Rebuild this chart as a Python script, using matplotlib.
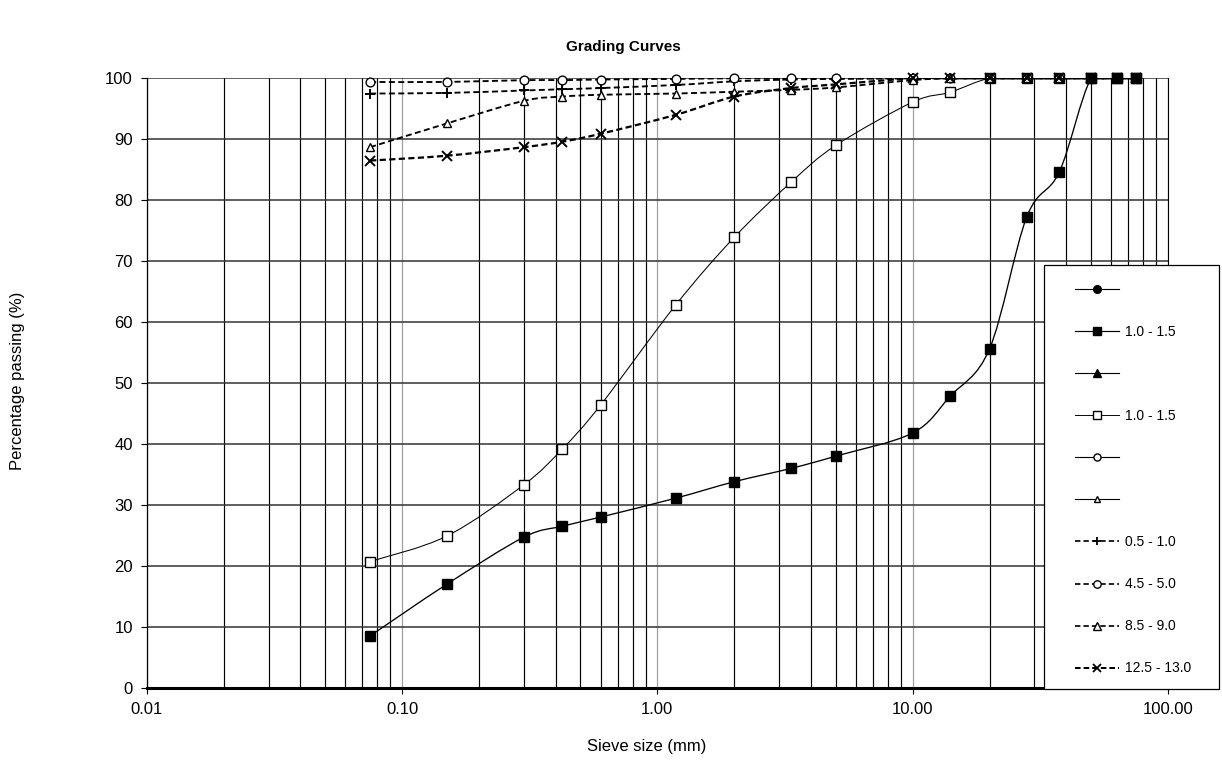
import numpy as np
import matplotlib
matplotlib.use('Agg')
import matplotlib.pyplot as plt
from matplotlib.path import Path
from matplotlib.patches import PathPatch, Rectangle
from matplotlib.lines import Line2D
from matplotlib.ticker import FixedLocator, NullFormatter

plt.rcParams['font.family'] = ['Liberation Sans', 'DejaVu Sans']

# ---------------- data ----------------
sieve = [0.075, 0.15, 0.3, 0.425, 0.6, 1.18, 2, 3.35, 5, 10, 14, 20, 28, 37.5, 50, 63, 75]

filled_sq = [8.5, 17.0, 24.7, 26.5, 28.0, 31.1, 33.8, 36.0, 38.0, 41.8, 47.8, 55.6, 77.3, 84.6, 100, 100, 100]
open_sq = [20.7, 24.9, 33.3, 39.2, 46.4, 62.8, 73.9, 83.0, 89.0, 96.1, 97.7, 100, 100, 100, 100, 100, 100]
plus_s = [97.5, 97.6, 98.0, 98.2, 98.4, 98.9, 99.5, 99.8, 99.9, 100, 100, 100, 100, 100, 100, 100, 100]
circle_s = [99.4, 99.4, 99.7, 99.7, 99.8, 99.9, 100, 100, 100, 100, 100, 100, 100, 100, 100, 100, 100]
tri_s = [88.7, 92.6, 96.3, 97.0, 97.3, 97.5, 97.8, 98.1, 98.5, 99.7, 100, 100, 100, 100, 100, 100, 100]
cross_s = [86.5, 87.3, 88.7, 89.6, 90.9, 94.0, 97.0, 98.4, 99.0, 100, 100, 100, 100, 100, 100, 100, 100]

legend_labels = ['', '1.0 - 1.5', '', '1.0 - 1.5', '', '', '0.5 - 1.0', '4.5 - 5.0', '8.5 - 9.0', '12.5 - 13.0']

x_major = [0.01, 0.1, 1, 10, 100]
x_major_labels = ['0.01', '0.10', '1.00', '10.00', '100.00']
y_ticks = list(range(0, 101, 10))

# ---------------- helpers ----------------
def smooth_path(x, y):
    u = np.log10(np.asarray(x, float))
    v = np.asarray(y, float)
    P = np.column_stack([u, v])
    n = len(P)
    verts = [P[0]]
    codes = [Path.MOVETO]
    for i in range(n - 1):
        p0 = P[i - 1] if i > 0 else P[i]
        p3 = P[i + 2] if i + 2 < n else P[i + 1]
        c1 = P[i] + (P[i + 1] - p0) / 6.0
        c2 = P[i + 1] - (p3 - P[i]) / 6.0
        verts += [c1, c2, P[i + 1]]
        codes += [Path.CURVE4] * 3
    verts = np.array(verts)
    verts[:, 0] = 10 ** verts[:, 0]
    return Path(verts, codes)

# ---------------- figure ----------------
W, H = 1222, 781
fig = plt.figure(figsize=(W / 100, H / 100), dpi=100)
ax = fig.add_axes([146.7 / W, 1 - 687.7 / H, (1168 - 146.7) / W, (687.7 - 78.3) / H])
ax.set_xscale('log')
ax.set_xlim(0.01, 100)
ax.set_ylim(0, 100)

# grid
ax.xaxis.set_major_locator(FixedLocator(x_major))
ax.set_xticklabels(x_major_labels)
minor = [k * 10.0 ** e for e in range(-2, 2) for k in range(2, 10)]
ax.xaxis.set_minor_locator(FixedLocator(minor))
ax.xaxis.set_minor_formatter(NullFormatter())
ax.set_yticks(y_ticks)
ax.grid(which='minor', axis='x', color='black', lw=0.85)
ax.grid(which='major', axis='x', color='#a0a0a0', lw=0.9)
ax.grid(which='major', axis='y', color='#333333', lw=1.1)
ax.set_axisbelow(True)

ax.tick_params(axis='x', which='minor', length=0)
ax.tick_params(axis='x', which='major', length=4, width=0.8, direction='out', pad=6, labelsize=12)
ax.tick_params(axis='y', which='major', length=4, width=0.8, direction='out', pad=6, labelsize=12)

ax.spines['top'].set_visible(False)
ax.spines['right'].set_color('black')
ax.spines['right'].set_linewidth(0.8)
ax.spines['left'].set_linewidth(0.9)
ax.spines['bottom'].set_linewidth(2.2)

# series styles: (data, marker, facecolor, markersize, linestyle, linewidth)
series = [
    ([], 'o', 'black', 6.5, '-', 0.9),
    (filled_sq, 's', 'black', 7.0, '-', 0.95),
    ([], '^', 'black', 6.0, '-', 0.9),
    (open_sq, 's', 'white', 6.8, '-', 0.75),
    ([], 'o', 'white', 6.0, '-', 0.9),
    ([], '^', 'white', 5.5, '-', 0.9),
    (plus_s, '+', 'black', 7.5, (0, (3.2, 1.8)), 1.35),
    (circle_s, 'o', 'white', 6.3, (0, (3.2, 1.8)), 1.35),
    (tri_s, '^', 'white', 6.3, (0, (3.2, 1.8)), 1.35),
    (cross_s, 'x', 'black', 7.5, (0, (2.8, 1.5)), 1.6),
]

handles = []
for i, (data, mk, fc, ms, ls, lw) in enumerate(series):
    z = 3 + i if i != 1 else 20
    if len(data) > 0:
        xs = sieve[:len(data)]
        patch = PathPatch(smooth_path(xs, data), fill=False, edgecolor='black',
                          lw=lw, linestyle=ls, zorder=z, capstyle='butt')
        ax.add_patch(patch)
        ax.plot(xs, data, ls='none', marker=mk, ms=ms, mfc=fc, mec='black',
                mew=1.0 if mk not in ('+', 'x') else 1.4, zorder=z + 0.5, clip_on=False)
    h = Line2D([], [], color='black', lw=lw * 0.9, linestyle=ls, marker=mk, ms=ms * 0.85,
               mfc=fc, mec='black', mew=1.0 if mk not in ('+', 'x') else 1.3)
    handles.append(h)

# legend (frame drawn separately)
fig.patches.append(Rectangle((1044 / W, 1 - 689 / H), (1219 - 1044) / W, (689 - 265) / H,
                             transform=fig.transFigure, facecolor='white',
                             edgecolor='black', lw=0.9, zorder=30))
leg = fig.legend(handles, legend_labels, loc='upper left',
                 bbox_to_anchor=(1075 / W, 1 - 283 / H), frameon=False,
                 fontsize=10, handlelength=3.17, handletextpad=0.45,
                 labelspacing=2.02, borderpad=0, borderaxespad=0, numpoints=1)
leg.set_zorder(31)

fig.text(623 / W, 1 - 47 / H, 'Grading Curves', ha='center', va='center',
         fontsize=11, fontweight='bold')
fig.text(647 / W, 1 - 747 / H, 'Sieve size (mm)', ha='center', va='center', fontsize=12)
fig.text(18 / W, 1 - 381 / H, 'Percentage passing (%)', ha='center', va='center',
         rotation=90, fontsize=12)

fig.savefig('out.png', dpi=100)
